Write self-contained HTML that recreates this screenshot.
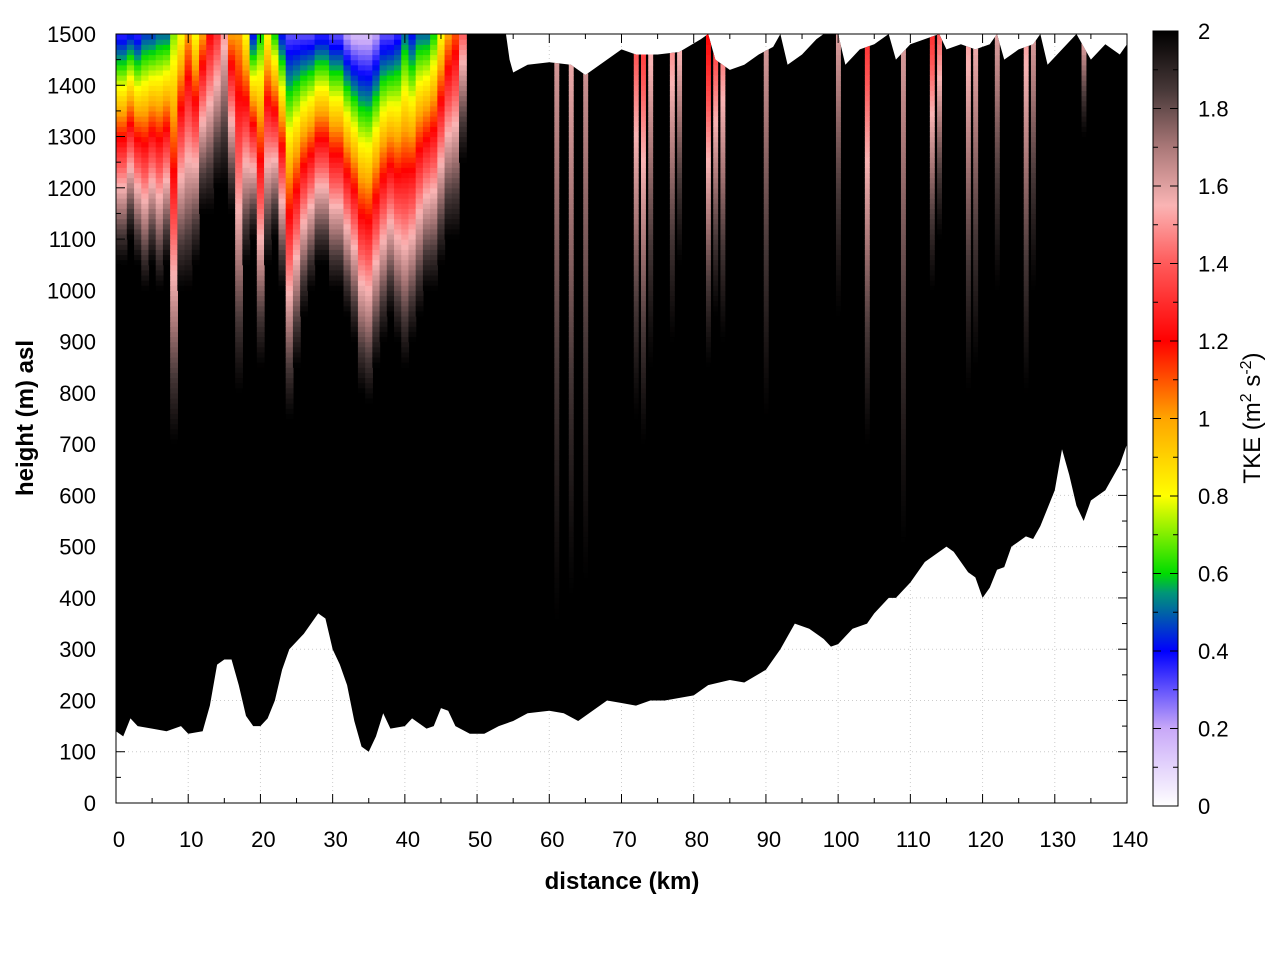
<!DOCTYPE html>
<html><head><meta charset="utf-8"><style>
body{margin:0;background:#fff}
svg text{font-family:"Liberation Sans",sans-serif;fill:#000}
</style></head><body>
<svg id="chart" width="1280" height="960" xmlns="http://www.w3.org/2000/svg">
<defs>
<clipPath id="plotclip"><rect x="116" y="34" width="1011" height="769"/></clipPath>
<linearGradient id="cbgrad" x1="0" y1="1" x2="0" y2="0"></linearGradient>
</defs>
<g id="grid"></g>
<g id="field" clip-path="url(#plotclip)"></g>
<g id="axes"></g>
<g id="cbar"></g>
</svg>
<script>
// ---- data ----
const groundKm = [0,1,2,3,5,7,9,10,12,13,14,15,16,17,18,19,20,21,22,23,24,26,28,29,30,31,32,33,34,35,36,37,38,40,41,43,44,45,46,47,49,51,53,55,57,60,62,64,66,68,70,72,74,76,80,82,85,87,90,92,94,96,98,99,100,102,104,105,107,108,110,112,113,115,116,118,119,120,121,122,123,124,126,127,128,130,131,132,133,134,135,136,137,139,140];
const groundM = [140,130,165,150,145,140,150,135,140,190,270,280,280,230,170,150,150,165,200,260,300,330,370,360,300,270,230,160,110,100,130,175,145,150,165,145,150,185,180,150,135,135,150,160,175,180,175,160,180,200,195,190,200,200,210,230,240,235,260,300,350,340,320,305,310,340,350,370,400,400,430,470,480,500,490,450,440,400,420,455,460,500,520,515,540,610,690,640,580,550,590,600,610,660,700];
const topKm = [0,54,54.5,55,57,60,63,65,67,69,70,72,75,78,81,82,83,85,87,89,91,92,93,95,97,98,100,101,103,105,107,108,110,112,114,115,117,119,121,122,123,125,127,128,129,131,133,135,137,139,140];
const topM = [1500,1500,1450,1425,1440,1445,1440,1420,1440,1460,1470,1460,1460,1465,1490,1500,1450,1430,1440,1460,1475,1500,1440,1460,1490,1500,1500,1440,1470,1480,1500,1450,1480,1490,1500,1470,1480,1470,1480,1500,1450,1470,1480,1500,1440,1470,1500,1450,1480,1460,1480];
// per-km column: height where TKE departs from 2, and TKE at 1500 m
const colKm  = [0,1,2,3,4,5,6,7,8,9,10,11,12,13,14,15,16,17,18,19,20,21,22,23,24,25,26,27,28,29,30,31,32,33,34,35,36,37,38,39,40,41,42,43,44,45,46,47,48,61,63,65,72,73,74,77,78,82,83,84,90,100,104,109,113,114,118,119,122,126,127,134];
const colH0  = [1050,1050,1100,1050,1000,1050,1000,1050,700,1000,1000,1050,1150,1150,1200,1200,1150,800,1050,1100,850,1050,1100,1000,750,850,950,1000,1050,1050,1000,1000,950,900,800,780,850,900,950,900,850,900,950,1000,1000,1050,1100,1100,1250,350,400,430,750,700,850,900,1050,850,950,900,750,950,700,500,1000,1100,800,850,1000,800,1000,1300];
const colTop = [0.35,0.35,0.4,0.35,0.45,0.45,0.5,0.5,0.7,0.8,1.0,0.8,1.0,1.2,1.3,1.5,1.0,1.0,0.8,0.4,0.6,0.8,0.6,0.4,0.3,0.3,0.3,0.3,0.35,0.35,0.3,0.3,0.2,0.15,0.15,0.15,0.2,0.3,0.3,0.35,0.5,0.4,0.5,0.5,0.6,0.8,1.0,1.1,1.4,1.6,1.55,1.6,1.35,1.3,1.5,1.45,1.5,1.2,1.3,1.4,1.6,1.6,1.3,1.6,1.3,1.4,1.5,1.55,1.6,1.5,1.6,1.55];
const xTicks = [0,10,20,30,40,50,60,70,80,90,100,110,120,130,140];
const yTicks = [0,100,200,300,400,500,600,700,800,900,1000,1100,1200,1300,1400,1500];
const cbTicks = [0,0.2,0.4,0.6,0.8,1,1.2,1.4,1.6,1.8,2];

// ---- scales ----
const X0=116,X1=1127,Y0=803,Y1=34;
const sx=k=>X0+(k/140)*(X1-X0);
const sy=m=>Y0-(m/1500)*(Y0-Y1);
const NS='http://www.w3.org/2000/svg';
function mk(tag,attrs,parent){const e=document.createElementNS(NS,tag);for(const k in attrs)e.setAttribute(k,attrs[k]);parent.appendChild(e);return e;}

const pal=[[0,[255,255,255]],[0.2,[200,168,248]],[0.4,[0,0,255]],[0.55,[0,150,120]],[0.6,[0,220,0]],[0.8,[255,255,0]],[1.0,[255,165,0]],[1.2,[255,0,0]],[1.4,[255,90,90]],[1.55,[250,180,180]],[1.7,[170,120,120]],[1.85,[70,55,55]],[2,[0,0,0]]];
function color(t){t=Math.max(0,Math.min(2,t));for(let i=1;i<pal.length;i++){if(t<=pal[i][0]){const a=pal[i-1],b=pal[i];const f=(t-a[0])/(b[0]-a[0]);const c=a[1].map((v,j)=>Math.round(v+(b[1][j]-v)*f));return `rgb(${c[0]},${c[1]},${c[2]})`;}}return '#000';}

const grid=document.getElementById('grid');
xTicks.forEach(k=>{const l=mk('line',{x1:sx(k),x2:sx(k),y1:Y1,y2:Y0,stroke:'#ccc','stroke-width':1,'stroke-dasharray':'1,3'},grid);

});
yTicks.forEach(m=>{const l=mk('line',{x1:X0,x2:X1,y1:sy(m),y2:sy(m),stroke:'#ccc','stroke-width':1,'stroke-dasharray':'1,3'},grid);

});

// ---- field ----
const field=document.getElementById('field');
let pts=[];
topKm.forEach((k,i)=>pts.push(sx(k)+','+sy(topM[i])));
for(let i=groundKm.length-1;i>=0;i--)pts.push(sx(groundKm[i])+','+sy(groundM[i]));
const poly=mk('polygon',{points:pts.join(' '),fill:'#000'},field);


const defs=document.querySelector('defs');
const cp=mk('clipPath',{id:'domclip'},defs);
mk('polygon',{points:pts.join(' ')},cp);
const cells=mk('g',{'clip-path':'url(#domclip)'},field);
const dz=10;
colKm.forEach((k,i)=>{
  const h0=colH0[i],tt=colTop[i];
  const half=k>50?0.3:0.5;
  const xa=sx(k-half),w=sx(k+half)-xa+0.6;
  for(let z=h0;z<1500;z+=dz){
    const f=(z+dz/2-h0)/(1500-h0);
    const t=2-(2-tt)*Math.pow(f,1.2);
    const r=mk('rect',{x:xa,y:sy(z+dz),width:w,height:sy(z)-sy(z+dz)+0.6,fill:color(t)},cells);
    
    
  }
});

// ---- axes ----
const ax=document.getElementById('axes');
const fr=mk('rect',{x:X0,y:Y1,width:X1-X0,height:Y0-Y1,fill:'none',stroke:'#000','stroke-width':1},ax);


for(let k=0;k<=140;k+=5){const L=k%10===0?9:5;
  mk('line',{x1:sx(k),x2:sx(k),y1:Y0,y2:Y0-L,stroke:'#000'},ax);
  mk('line',{x1:sx(k),x2:sx(k),y1:Y1,y2:Y1+L,stroke:'#000'},ax);}
for(let m=0;m<=1500;m+=50){const L=m%100===0?9:5;
  mk('line',{x1:X0,x2:X0+L,y1:sy(m),y2:sy(m),stroke:'#000'},ax);
  mk('line',{x1:X1,x2:X1-L,y1:sy(m),y2:sy(m),stroke:'#000'},ax);}
xTicks.forEach(k=>{const t=mk('text',{x:sx(k)+3,y:847,'font-size':22,'text-anchor':'middle'},ax);t.textContent=k;

});
yTicks.forEach(m=>{const t=mk('text',{x:96,y:sy(m)+8,'font-size':22,'text-anchor':'end'},ax);t.textContent=m;

});
const xt=mk('text',{x:622,y:889,'font-size':24,'font-weight':'bold','text-anchor':'middle'},ax);xt.textContent='distance (km)';


const yt=mk('text',{x:0,y:0,'font-size':24,'font-weight':'bold','text-anchor':'middle',transform:'translate(33,418) rotate(-90)'},ax);yt.textContent='height (m) asl';



// ---- colorbar ----
const g=document.getElementById('cbgrad');
for(let t=0;t<=2.0001;t+=0.05)mk('stop',{offset:(t/2),'stop-color':color(t)},g);
const cb=document.getElementById('cbar');
const CT=31,CB=806,CX=1153,CW=25;
const cy=t=>CB-(t/2)*(CB-CT);
const cr=mk('rect',{x:CX,y:CT,width:CW,height:CB-CT,fill:'url(#cbgrad)',stroke:'#000','stroke-width':1},cb);


for(let t=0;t<=2.0001;t+=0.1){const L=Math.round(t*10)%2===0?8:5;
  mk('line',{x1:CX,x2:CX+L,y1:cy(t),y2:cy(t),stroke:'#000'},cb);
  mk('line',{x1:CX+CW,x2:CX+CW-L,y1:cy(t),y2:cy(t),stroke:'#000'},cb);}
cbTicks.forEach(t=>{const e=mk('text',{x:1198,y:cy(t)+8,'font-size':22},cb);e.textContent=String(t);

});
const ct=mk('text',{x:0,y:0,'font-size':24,'text-anchor':'middle',transform:'translate(1260,418) rotate(-90)'},cb);
ct.innerHTML='TKE (m<tspan dy="-9" font-size="16">2</tspan><tspan dy="9"> s</tspan><tspan dy="-9" font-size="16">-2</tspan><tspan dy="9">)</tspan>';


</script>
</body></html>
